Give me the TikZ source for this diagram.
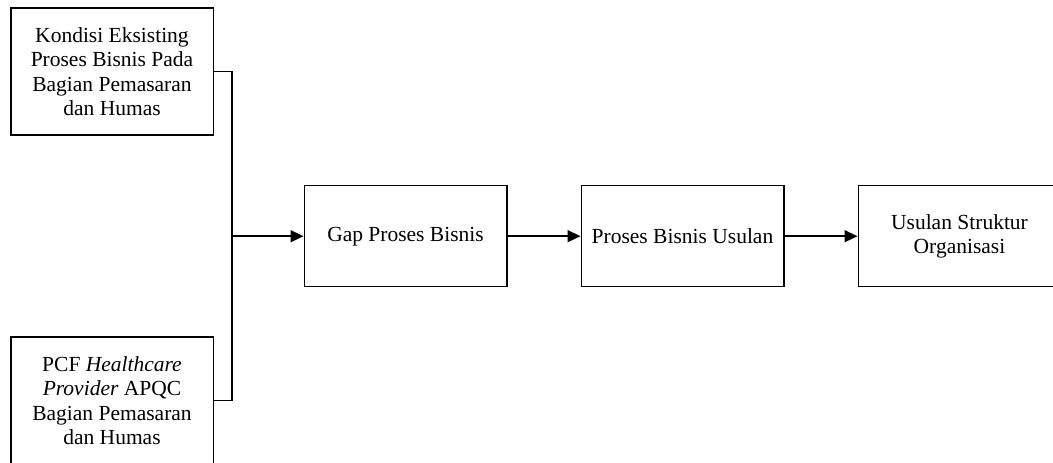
\documentclass[tikz,border=0pt]{standalone}
\usepackage{fontspec}
\setmainfont{Liberation Serif}
\usetikzlibrary{arrows.meta}
\begin{document}
\begin{tikzpicture}[x=1pt,y=-1pt,
  box/.style={draw,line width=1.5pt,minimum width=202.5pt,align=center,inner sep=0pt,
    font=\fontsize{21.5}{24.5}\selectfont},
  conn/.style={line width=1.5pt},
  arr/.style={line width=1.5pt,-{Triangle[length=13pt,width=12pt]}}]
\useasboundingbox (0,0) rectangle (1053,463);
\clip (0,0) rectangle (1053,463);
\node[box,minimum height=127pt] (b1) at (112,71.5) {Kondisi Eksisting\\Proses Bisnis Pada\\Bagian Pemasaran\\dan Humas};
\node[box,minimum height=127pt] (b2) at (112,400.5) {PCF \textit{Healthcare}\\\textit{Provider} APQC\\Bagian Pemasaran\\dan Humas};
\node[box,minimum height=101pt] (gap) at (405.5,236.2) {Gap Proses Bisnis};
\node[box,minimum height=101pt] (pbu) at (682.5,236.2) {Proses Bisnis Usulan};
\node[box,minimum height=101pt] (usl) at (959.5,236.2) {Usulan Struktur\\Organisasi};
\coordinate (j) at (232,236.2);
\draw[conn] (b1.east) -| (j);
\draw[conn] (b2.east) -| (j);
\draw[arr] (j) -- (gap.west);
\draw[arr] (gap.east) -- (pbu.west);
\draw[arr] (pbu.east) -- (usl.west);
\end{tikzpicture}
\end{document}
